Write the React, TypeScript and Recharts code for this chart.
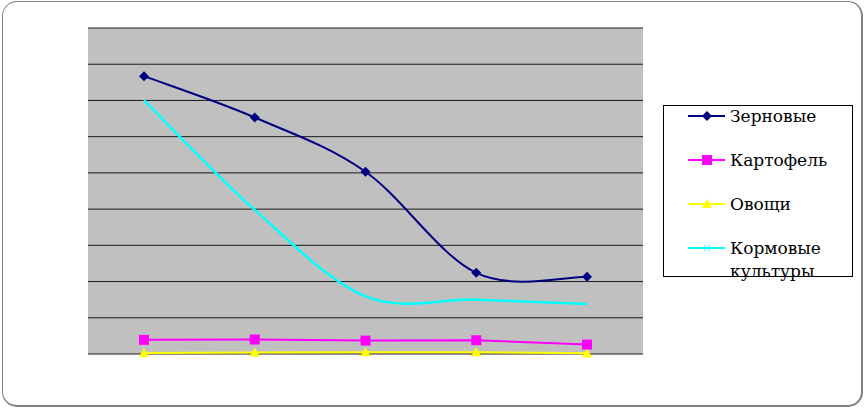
import { LineChart, Line, XAxis, YAxis, CartesianGrid } from 'recharts';

const categories = ['1', '2', '3', '4', '5'];
const zernovye = [76.7, 65.3, 50.3, 22.4, 21.3];
const kartofel = [3.9, 4.0, 3.7, 3.8, 2.6];
const ovoshchi = [0.3, 0.4, 0.5, 0.5, 0.2];
const kormovye = [70.1, 39.8, 15.9, 15.0, 13.8];
const yTicks = [0, 10, 20, 30, 40, 50, 60, 70, 80, 90];

const data = categories.map((c, i) => ({
  name: c,
  zernovye: zernovye[i],
  kartofel: kartofel[i],
  ovoshchi: ovoshchi[i],
  kormovye: kormovye[i],
}));

// Excel-style smoothed line (Catmull-Rom through the points)
const smoothCurve: any = (context: any) => {
  let pts: number[][] = [];
  return {
    areaStart() {},
    areaEnd() {},
    lineStart() {
      pts = [];
    },
    point(x: number, y: number) {
      pts.push([+x, +y]);
    },
    lineEnd() {
      if (!pts.length) return;
      context.moveTo(pts[0][0], pts[0][1]);
      for (let i = 0; i < pts.length - 1; i++) {
        const p0 = pts[i - 1] || pts[i];
        const p1 = pts[i];
        const p2 = pts[i + 1];
        const p3 = pts[i + 2] || p2;
        context.bezierCurveTo(
          p1[0] + (p2[0] - p0[0]) / 6,
          p1[1] + (p2[1] - p0[1]) / 6,
          p2[0] - (p3[0] - p1[0]) / 6,
          p2[1] - (p3[1] - p1[1]) / 6,
          p2[0],
          p2[1]
        );
      }
    },
  };
};

const Diamond = ({ cx, cy, fill }: any) => (
  <polygon points={`${cx},${cy - 5} ${cx + 5},${cy} ${cx},${cy + 5} ${cx - 5},${cy}`} fill={fill} />
);
const Square = ({ cx, cy, fill }: any) => (
  <rect x={cx - 5} y={cy - 5} width={10} height={10} fill={fill} />
);
const Triangle = ({ cx, cy, fill }: any) => (
  <polygon points={`${cx},${cy - 5} ${cx + 5},${cy + 4} ${cx - 5},${cy + 4}`} fill={fill} />
);
const Cross = ({ cx, cy, fill }: any) => (
  <path d={`M${cx - 3},${cy - 3}L${cx + 3},${cy + 3}M${cx + 3},${cy - 3}L${cx - 3},${cy + 3}`} stroke={fill} strokeWidth={1} />
);

const series = [
  { key: 'zernovye', label: ['Зерновые'], color: '#000080', shape: Diamond },
  { key: 'kartofel', label: ['Картофель'], color: '#ff00ff', shape: Square },
  { key: 'ovoshchi', label: ['Овощи'], color: '#ffff00', shape: Triangle },
  { key: 'kormovye', label: ['Кормовые', 'культуры'], color: '#00ffff', shape: Cross },
];

const LegendBox = () => (
  <div
    style={{
      position: 'absolute',
      left: 663,
      top: 105,
      width: 190,
      height: 172,
      border: '1px solid #000',
      boxSizing: 'border-box',
      background: '#fff',
    }}
  >
    {series.map((s) => {
      const Shape = s.shape;
      return (
        <div key={s.key} style={{ display: 'flex', alignItems: 'flex-start', height: 44 }}>
          <svg width={42} height={20} style={{ marginLeft: 23 }}>
            <line x1={1} y1={10} x2={38} y2={10} stroke={s.color} strokeWidth={2} />
            <Shape cx={20} cy={10} fill={s.color} />
          </svg>
          <div style={{ lineHeight: '23px', marginLeft: 1, marginTop: -1, fontFamily: 'DejaVu Serif', fontSize: 17, color: '#000' }}>
            {s.label.map((l) => (
              <div key={l}>{l}</div>
            ))}
          </div>
        </div>
      );
    })}
  </div>
);

export default function App() {
  return (
    <div style={{ position: 'absolute', left: 0, top: 0, width: 865, height: 408, background: '#fff' }}>
      <div
        style={{
          position: 'absolute',
          left: 2,
          top: 1,
          width: 858,
          height: 403,
          border: '1px solid #808080',
          borderRightWidth: 2,
          borderBottomWidth: 2,
          borderRadius: 15,
        }}
      />
      <div style={{ position: 'absolute', left: 0, top: 0 }}>
        <LineChart width={865} height={408} data={data} margin={{ top: 28, right: 222, bottom: 54, left: 88 }}>
          <CartesianGrid vertical={false} stroke="#1a1a1a" fill="#c0c0c0" strokeOpacity={1} />
          <XAxis dataKey="name" tick={{ fill: 'transparent', fontSize: 1 }} tickLine={false} axisLine={{ stroke: '#808080', strokeWidth: 2 }} padding={{ left: 56, right: 56 }} height={0} />
          <YAxis domain={[0, 90]} ticks={yTicks} tick={{ fill: 'transparent', fontSize: 1 }} tickLine={false} axisLine={{ stroke: '#808080', strokeWidth: 2 }} width={0} />
          <YAxis yAxisId="r" orientation="right" domain={[0, 90]} ticks={yTicks} tick={{ fill: 'transparent', fontSize: 1 }} tickLine={false} axisLine={{ stroke: '#808080', strokeWidth: 2 }} width={0} />
          <Line type={smoothCurve} dataKey="kormovye" stroke="#00ffff" strokeWidth={2.5} dot={false} isAnimationActive={false} />
          <Line type="linear" dataKey="ovoshchi" stroke="#ffff00" strokeWidth={2} dot={<Triangle fill="#ffff00" />} isAnimationActive={false} />
          <Line type="linear" dataKey="kartofel" stroke="#ff00ff" strokeWidth={2} dot={<Square fill="#ff00ff" />} isAnimationActive={false} />
          <Line type={smoothCurve} dataKey="zernovye" stroke="#000080" strokeWidth={2} dot={<Diamond fill="#000080" />} isAnimationActive={false} />
        </LineChart>
      </div>
      <LegendBox />
    </div>
  );
}
